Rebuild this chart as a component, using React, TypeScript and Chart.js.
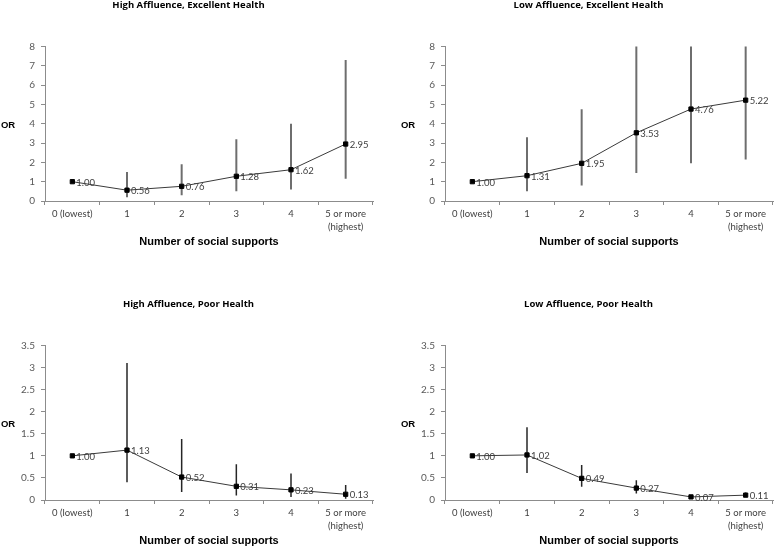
import React, { useEffect, useRef } from 'react';
import { Chart, registerables } from 'chart.js';

Chart.register(...registerables);

const categories: (string | string[])[] = ['0 (lowest)', '1', '2', '3', '4', ['5 or more', '(highest)']];

const highExcOR = [1.0, 0.56, 0.76, 1.28, 1.62, 2.95];
const highExcLow = [null, 0.2, 0.3, 0.5, 0.6, 1.15];
const highExcHigh = [null, 1.5, 1.9, 3.2, 4.0, 7.3];

const lowExcOR = [1.0, 1.31, 1.95, 3.53, 4.76, 5.22];
const lowExcLow = [null, 0.5, 0.8, 1.45, 1.95, 2.15];
const lowExcHigh = [null, 3.3, 4.75, 8, 8, 8];

const highPoorOR = [1.0, 1.13, 0.52, 0.31, 0.23, 0.13];
const highPoorLow = [null, 0.4, 0.18, 0.1, 0.07, 0.03];
const highPoorHigh = [null, 3.1, 1.38, 0.81, 0.6, 0.34];

const lowPoorOR = [1.0, 1.02, 0.49, 0.27, 0.07, 0.11];
const lowPoorLow = [null, 0.61, 0.3, 0.15, 0.04, 0.07];
const lowPoorHigh = [null, 1.65, 0.79, 0.45, 0.11, 0.17];

const excellentTicks = { max: 8, step: 1 };
const poorTicks = { max: 3.5, step: 0.5 };

type PanelProps = {
  title: string;
  or: number[];
  low: (number | null)[];
  high: (number | null)[];
  yMax: number;
  yStep: number;
  barColor: string;
  barWidth: number;
  left: number;
  top: number;
};

function Panel(p: PanelProps) {
  const ref = useRef<HTMLCanvasElement | null>(null);
  useEffect(() => {
    if (!ref.current) return;
    const errorBars = {
      id: 'errorBars',
      beforeDatasetsDraw(chart: any) {
        const ctx = chart.ctx;
        const meta = chart.getDatasetMeta(0);
        const y = chart.scales.y;
        const area = chart.chartArea;
        ctx.save();
        ctx.beginPath();
        ctx.rect(area.left, area.top - 1, area.right - area.left, area.bottom - area.top + 2);
        ctx.clip();
        ctx.strokeStyle = p.barColor;
        ctx.lineWidth = p.barWidth;
        meta.data.forEach((pt: any, i: number) => {
          const lo = p.low[i];
          const hi = p.high[i];
          if (lo == null || hi == null) return;
          ctx.beginPath();
          ctx.moveTo(pt.x, y.getPixelForValue(lo));
          ctx.lineTo(pt.x, y.getPixelForValue(hi));
          ctx.stroke();
        });
        ctx.restore();
      },
    };
    const labels = {
      id: 'valueLabels',
      afterDatasetsDraw(chart: any) {
        const ctx = chart.ctx;
        const meta = chart.getDatasetMeta(0);
        ctx.save();
        ctx.font = '9.5px Lato';
        ctx.fillStyle = '#404040';
        ctx.textAlign = 'left';
        ctx.textBaseline = 'middle';
        meta.data.forEach((pt: any, i: number) => {
          ctx.fillText(p.or[i].toFixed(2), pt.x + 4, pt.y + 1);
        });
        ctx.restore();
      },
    };
    const orTitle = {
      id: 'orTitle',
      afterDraw(chart: any) {
        const ctx = chart.ctx;
        const area = chart.chartArea;
        ctx.save();
        ctx.font = 'bold 9.5px "Liberation Sans"';
        ctx.fillStyle = '#000';
        ctx.textAlign = 'center';
        ctx.textBaseline = 'middle';
        ctx.fillText('OR', 8, (area.top + area.bottom) / 2 + 2);
        ctx.restore();
      },
    };
    const chart = new Chart(ref.current, {
      type: 'line',
      data: {
        labels: categories as any,
        datasets: [
          {
            data: p.or,
            borderColor: '#3a3a3a',
            borderWidth: 1,
            pointStyle: 'rect',
            pointRadius: 3,
            pointBackgroundColor: '#000',
            pointBorderColor: '#000',
            pointBorderWidth: 1,
            tension: 0,
            fill: false,
          },
        ],
      },
      options: {
        animation: false,
        responsive: false,
        layout: { padding: { left: 0, right: 1, top: 0, bottom: 0 } },
        plugins: {
          legend: { display: false },
          tooltip: { enabled: false },
          title: {
            display: true,
            text: p.title,
            color: '#000',
            font: { family: '"Open Sans"', weight: 'bold', size: 9.5, lineHeight: 1.1 },
            padding: { top: 0, bottom: 36 },
          },
        },
        scales: {
          x: {
            type: 'category',
            offset: true,
            grid: { offset: true, drawOnChartArea: false, tickLength: 4, color: '#8c8c8c' },
            border: { color: '#8c8c8c' },
            ticks: {
              color: '#404040',
              font: { family: 'Lato', size: 9.5, lineHeight: 1.4 },
              padding: 2,
              maxRotation: 0,
              autoSkip: false,
            },
            title: {
              display: true,
              text: 'Number of social supports',
              color: '#000',
              font: { family: '"Liberation Sans"', weight: 'bold', size: 11 },
              padding: { top: 0, bottom: 2 },
            },
            afterFit: (s: any) => {
              s.height = 50;
            },
          },
          y: {
            min: 0,
            max: p.yMax,
            grid: { drawOnChartArea: false, tickLength: 4, color: '#8c8c8c' },
            border: { color: '#8c8c8c' },
            ticks: {
              stepSize: p.yStep,
              color: '#595959',
              font: { family: 'Lato', size: 10 },
              padding: 6,
              callback: (v: any) => String(Number(v)),
            },
            afterFit: (s: any) => {
              s.width = 45;
            },
          },
        },
      } as any,
      plugins: [errorBars, labels, orTitle],
    });
    return () => chart.destroy();
  }, []);
  return (
    <canvas
      ref={ref}
      width={378}
      height={251}
      style={{ position: 'absolute', left: p.left, top: p.top, width: 378, height: 251 }}
    />
  );
}

export default function App() {
  return (
    <div style={{ position: 'absolute', left: 0, top: 0, width: 778, height: 550, background: '#fff' }}>
      <Panel
        title="High Affluence, Excellent Health"
        or={highExcOR}
        low={highExcLow}
        high={highExcHigh}
        yMax={excellentTicks.max}
        yStep={excellentTicks.step}
        barColor="#6e6e6e"
        barWidth={2}
        left={0}
        top={0}
      />
      <Panel
        title="Low Affluence, Excellent Health"
        or={lowExcOR}
        low={lowExcLow}
        high={lowExcHigh}
        yMax={excellentTicks.max}
        yStep={excellentTicks.step}
        barColor="#6e6e6e"
        barWidth={2}
        left={400}
        top={0}
      />
      <Panel
        title="High Affluence, Poor Health"
        or={highPoorOR}
        low={highPoorLow}
        high={highPoorHigh}
        yMax={poorTicks.max}
        yStep={poorTicks.step}
        barColor="#262626"
        barWidth={1.5}
        left={0}
        top={299}
      />
      <Panel
        title="Low Affluence, Poor Health"
        or={lowPoorOR}
        low={lowPoorLow}
        high={lowPoorHigh}
        yMax={poorTicks.max}
        yStep={poorTicks.step}
        barColor="#262626"
        barWidth={1.5}
        left={400}
        top={299}
      />
    </div>
  );
}
